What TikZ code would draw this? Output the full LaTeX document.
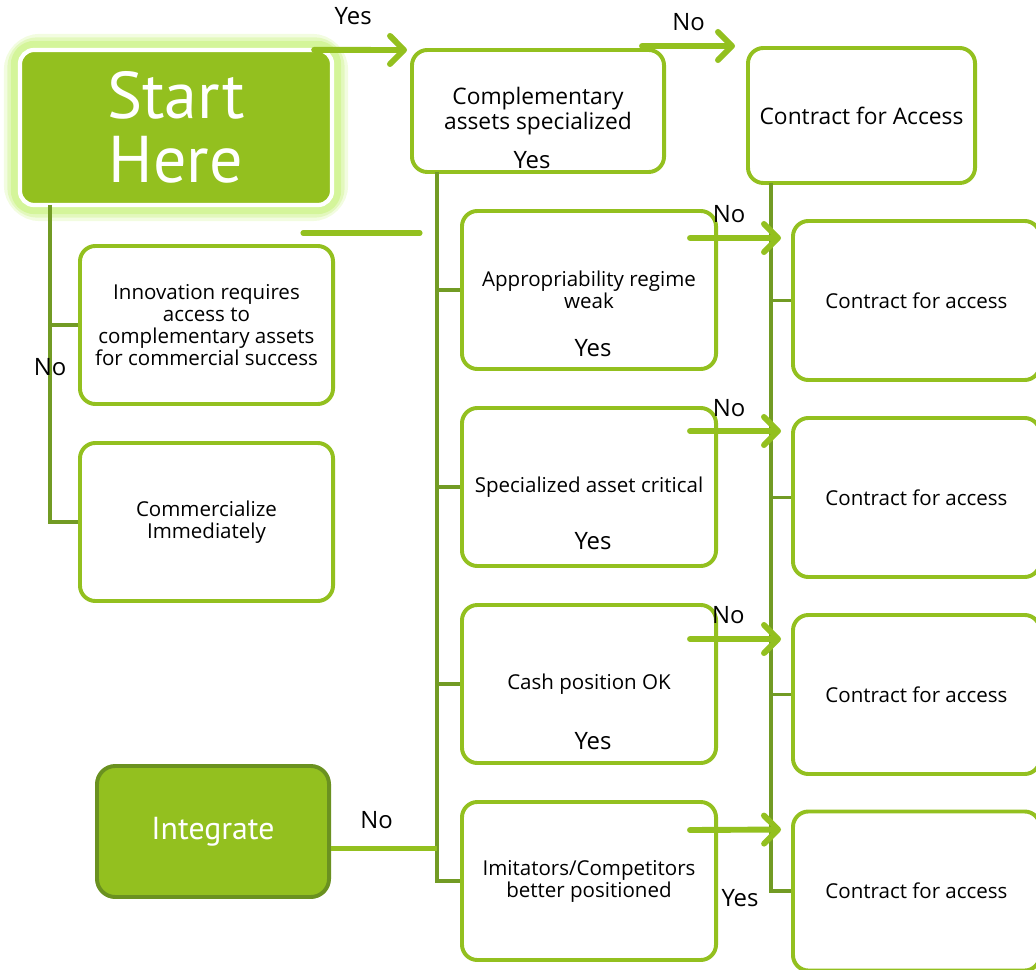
\documentclass[tikz,border=0pt]{standalone}
\usepackage{fontspec}
\setmainfont{Open Sans}
\newfontfamily\headfont{PT Sans}
\usepackage{xcolor}
\definecolor{flowGreen}{HTML}{93C01F}
\definecolor{flowDark}{HTML}{729B24}
\definecolor{flowEdge}{HTML}{6A9120}
\definecolor{flowGlow}{HTML}{D4F59A}
\usetikzlibrary{arrows.meta, positioning, calc, backgrounds}

\begin{document}
\begin{tikzpicture}[x=0.025cm, y=-0.025cm,
  box/.style={
    draw=flowGreen, fill=white, line width=2.8pt, rounded corners=11pt,
    align=center, font=\fontsize{14.6}{15.6}\selectfont, text=black
  },
  bigbox/.style={box, font=\fontsize{16.2}{17.8}\selectfont},
  link/.style={draw=flowDark, line width=2.8pt},
  arrow/.style={-{Straight Barb[length=10pt, width=20pt, round]}, line width=4.2pt, color=flowGreen, line cap=round},
  stub/.style={line width=3.6pt, color=flowGreen, line cap=round},
  lbl/.style={font=\fontsize{17}{18}\selectfont, text=black, inner sep=0pt}
]
  \clip (0,0) rectangle (1036,970);
  \useasboundingbox (0,0) rectangle (1036,970);

  % left column
  \node[fill=flowGreen, draw=white, line width=3pt, rounded corners=10pt, minimum width=7.8cm, minimum height=3.875cm,
        align=center, text=white, font=\headfont\fontsize{47}{46}\selectfont] (start) at (176,127.5) {Start\\Here};
  \node[box, minimum width=6.325cm, minimum height=3.95cm] (innov) at (206.5,325) {Innovation requires\\access to\\complementary assets\\for commercial success};
  \node[box, minimum width=6.325cm, minimum height=3.95cm] (comm) at (206.5,522) {Commercialize\\Immediately};
  \node[fill=flowGreen, draw=flowEdge, line width=2.8pt, rounded corners=13pt, minimum width=5.8cm, minimum height=3.275cm,
        text=white, font=\headfont\fontsize{22.6}{24}\selectfont] (integ) at (213,831.5) {Integrate};

  % middle column
  \node[bigbox, minimum width=6.3cm, minimum height=3.05cm] (comp) at (538,111) {Complementary\\assets specialized};
  \node[box, minimum width=6.35cm, minimum height=3.95cm] (appr) at (589,290) {Appropriability regime\\weak};
  \node[box, minimum width=6.35cm, minimum height=3.95cm] (spec) at (589,487) {Specialized asset critical};
  \node[box, minimum width=6.35cm, minimum height=3.95cm] (cash) at (589,684) {Cash position OK};
  \node[box, minimum width=6.35cm, minimum height=3.95cm] (imit) at (589,881) {Imitators/Competitors\\better positioned};

  % right column
  \node[bigbox, minimum width=5.675cm, minimum height=3.375cm] (cfa) at (861.5,115.5) {Contract for Access};
  \node[box, minimum width=6.175cm, minimum height=3.975cm] (c1) at (916.5,300.5) {Contract for access};
  \node[box, minimum width=6.175cm, minimum height=3.975cm] (c2) at (916.5,497.5) {Contract for access};
  \node[box, minimum width=6.175cm, minimum height=3.975cm] (c3) at (916.5,694.5) {Contract for access};
  \node[box, minimum width=6.175cm, minimum height=3.975cm] (c4) at (916.5,891) {Contract for access};

  % glow behind start
  \begin{scope}[on background layer]
    \draw[flowGlow, line width=20pt, rounded corners=16pt, opacity=0.3] (start.south west) rectangle (start.north east);
    \draw[flowGlow, line width=15pt, rounded corners=14pt, opacity=0.5] (start.south west) rectangle (start.north east);
    \draw[flowGlow, line width=10pt, rounded corners=12pt] (start.south west) rectangle (start.north east);
  \end{scope}

  % trunks
  \coordinate (trunkL) at (50,205);
  \coordinate (trunkM) at (437,172);
  \coordinate (trunkR) at (771,183);
  \draw[link] (trunkL) |- node[lbl, pos=0.255]{No} (comm.west);
  \draw[link] (innov.west) -- (innov.west -| trunkL);
  \draw[link] (trunkM) |- (imit.west);
  \draw[link] (appr.west) -- (appr.west -| trunkM);
  \draw[link] (spec.west) -- (spec.west -| trunkM);
  \draw[link] (cash.west) -- (cash.west -| trunkM);
  \draw[link] (trunkR) |- (c4.west);
  \draw[link] (c1.west) -- (c1.west -| trunkR);
  \draw[link] (c2.west) -- (c2.west -| trunkR);
  \draw[link] (c3.west) -- (c3.west -| trunkR);
  \draw[stub, line cap=butt] ([shift={(0,17)}]integ.east) -- ([shift={(0,17)}]integ.east -| trunkM) node[lbl, pos=0.43, yshift=0.72cm]{No};

  % free stub
  \coordinate (stubA) at (303,233);
  \coordinate (stubB) at (420,233);
  \draw[stub] (stubA) -- (stubB);

  % arrows
  \draw[arrow] ([shift={(-20,2)}]start.north east) -- ([shift={(-3,2)}]comp.north west) node[lbl, pos=0.42, yshift=0.85cm]{Yes};
  \draw[arrow] ([shift={(-24,-2)}]comp.north east) -- ([shift={(-11,0)}]cfa.north west) node[lbl, midway, yshift=0.6cm]{No};
  \draw[arrow] ([shift={(-28,29)}]appr.north east) -- ([shift={(-10,19)}]c1.north west) node[lbl, pos=0.43, yshift=0.6cm]{No};
  \draw[arrow] ([shift={(-28,25)}]spec.north east) -- ([shift={(-10,15)}]c2.north west) node[lbl, pos=0.43, yshift=0.58cm]{No};
  \draw[arrow] ([shift={(-28,36)}]cash.north east) -- ([shift={(-10,26)}]c3.north west) node[lbl, pos=0.42, yshift=0.6cm]{No};
  \draw[arrow] ([shift={(-28,30)}]imit.north east) -- ([shift={(-10,20)}]c4.north west);

  % yes labels
  \node[lbl] (yesC) at ([shift={(-6,-14)}]comp.south) {Yes};
  \node[lbl] (yesA) at ([shift={(4,-23)}]appr.south) {Yes};
  \node[lbl] (yesS) at ([shift={(4,-27)}]spec.south) {Yes};
  \node[lbl] (yesK) at ([shift={(4,-24)}]cash.south) {Yes};
  \node[lbl] (yesI) at ([shift={(22,17)}]imit.east) {Yes};
\end{tikzpicture}
\end{document}
